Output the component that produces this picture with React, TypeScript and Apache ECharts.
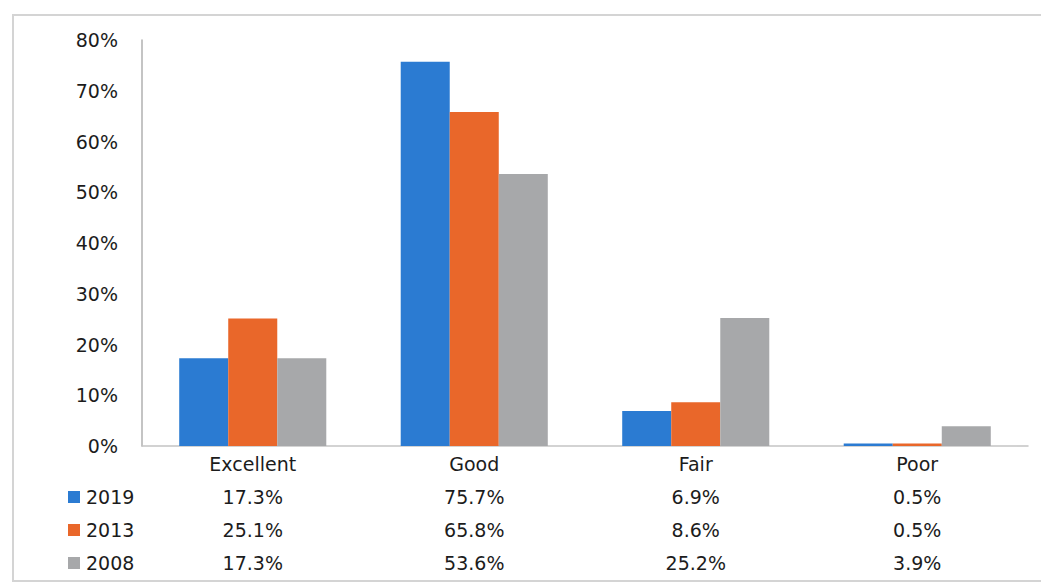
import React, { useEffect, useRef } from "react";
import * as echarts from "echarts";

const categories = ["Excellent", "Good", "Fair", "Poor"];
const years = ["2019", "2013", "2008"];
const values2019 = [17.3, 75.7, 6.9, 0.5];
const values2013 = [25.1, 65.8, 8.6, 0.5];
const values2008 = [17.3, 53.6, 25.2, 3.9];
const yTicks = [0, 10, 20, 30, 40, 50, 60, 70, 80];
const colors = ["#2b7bd2", "#e9672a", "#a7a8aa"];

const FONT = "DejaVu Sans";
const TEXT = { fontFamily: FONT, fontSize: 19, fontWeight: "normal" as const, color: "#1c1c1c" };

export default function App() {
  const ref = useRef<HTMLDivElement>(null);
  useEffect(() => {
    if (!ref.current) return;
    const chart = echarts.init(ref.current, undefined, { renderer: "svg" });
    const rows = [values2019, values2013, values2008];
    const tableAxes = rows.map((row, i) => ({
      type: "category" as const,
      data: categories,
      gridIndex: 0,
      position: "bottom" as const,
      offset: 34 + i * 33,
      axisLine: { show: false },
      axisTick: { show: false },
      axisLabel: {
        margin: 7,
        ...TEXT,
        formatter: (_v: string, idx: number) => row[idx].toFixed(1) + "%",
      },
    }));
    chart.setOption({
      animation: false,
      backgroundColor: "#fff",
      graphic: [
        {
          type: "rect",
          shape: { x: 13, y: 15, width: 1040, height: 566 },
          style: { fill: "none", stroke: "#d4d4d4", lineWidth: 2 },
          silent: true,
        },
      ],
      grid: { left: 142, right: 13, top: 40, bottom: 138 },
      legend: {
        orient: "vertical",
        left: 68,
        top: 487,
        padding: 0,
        itemGap: 13,
        itemWidth: 12,
        itemHeight: 12,
        icon: "rect",
        data: years,
        textStyle: { ...TEXT, lineHeight: 20, padding: [0, 0, 0, 1] },
      },
      xAxis: [
        {
          type: "category",
          data: categories,
          position: "bottom",
          axisLine: { show: true, lineStyle: { color: "#c4c4c4", width: 1.5 } },
          axisTick: { show: false },
          axisLabel: { margin: 8, ...TEXT },
        },
        ...tableAxes,
      ],
      yAxis: {
        type: "value",
        min: 0,
        max: 80,
        interval: 10,
        splitLine: { show: false },
        axisLine: { show: true, lineStyle: { color: "#b0b0b0", width: 1.5 } },
        axisTick: { show: false },
        axisLabel: {
          margin: 24,
          ...TEXT,
          formatter: (v: number) => (yTicks.includes(v) ? v + "%" : ""),
        },
      },
      series: rows.map((row, i) => ({
        name: years[i],
        type: "bar",
        data: row,
        xAxisIndex: 0,
        barGap: "0%",
        barCategoryGap: "33.6%",
        itemStyle: { color: colors[i] },
      })),
    });
    return () => chart.dispose();
  }, []);
  return (
    <div
      ref={ref}
      style={{ position: "fixed", left: 0, top: 0, width: 1041, height: 584 }}
    />
  );
}
